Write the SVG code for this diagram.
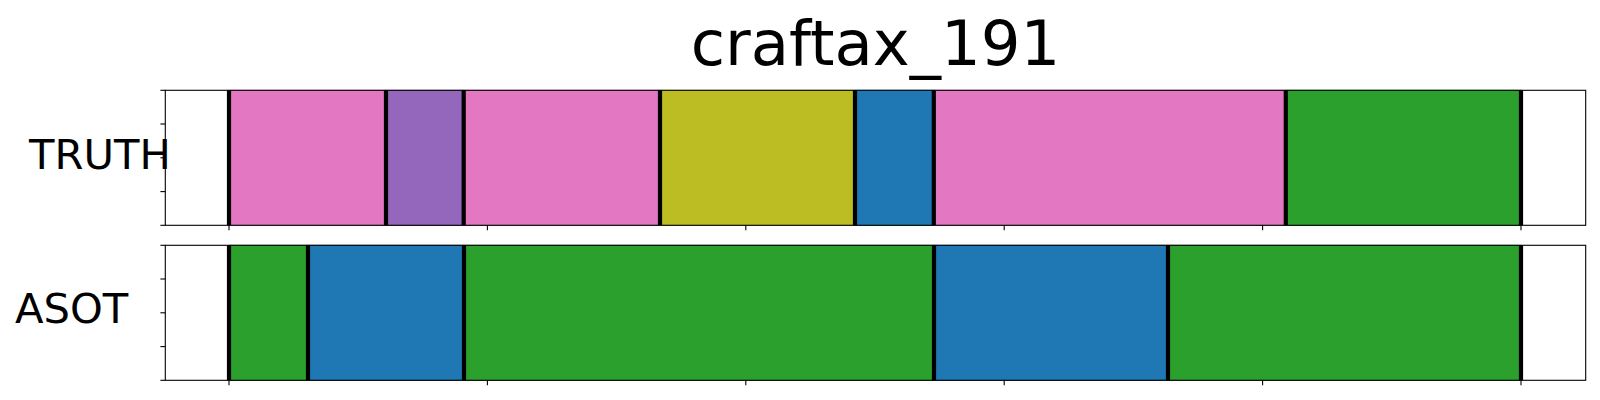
<svg xmlns="http://www.w3.org/2000/svg" width="1600" height="400" viewBox="0 0 1600 400">
<style>
  text { font-family: "DejaVu Sans", "Liberation Sans", sans-serif; fill: #000; }
  .title { font-size: 62.5px; }
  .lab { font-size: 41.7px; }
  .spine { fill: none; stroke: #000; stroke-width: 1.1; }
  .tick { stroke: #000; stroke-width: 1.1; }
  .bnd { stroke: #000; stroke-width: 4.2; }
  .pink { fill: #e377c2; stroke: #d36bb3; stroke-width: 1; }
  .purple { fill: #9467bd; stroke: #8a5db3; stroke-width: 1; }
  .olive { fill: #bcbd22; stroke: #b0b01c; stroke-width: 1; }
  .blue { fill: #1f77b4; stroke: #1b6ca6; stroke-width: 1; }
  .green { fill: #2ca02c; stroke: #279527; stroke-width: 1; }
</style>
<rect x="0" y="0" width="1600" height="400" fill="#fff"/>
<text class="title" x="875.5" y="64.5" text-anchor="middle">craftax_191</text>

<g id="truth">
  <rect class="pink" x="229" y="90.3" width="157" height="135"/>
  <rect class="purple" x="386" y="90.3" width="77.7" height="135"/>
  <rect class="pink" x="463.7" y="90.3" width="196.3" height="135"/>
  <rect class="olive" x="660" y="90.3" width="195" height="135"/>
  <rect class="blue" x="855" y="90.3" width="78.8" height="135"/>
  <rect class="pink" x="933.8" y="90.3" width="352" height="135"/>
  <rect class="green" x="1285.8" y="90.3" width="235.2" height="135"/>
  <g class="bnd">
    <line x1="229" y1="90.3" x2="229" y2="225.3"/>
    <line x1="386" y1="90.3" x2="386" y2="225.3"/>
    <line x1="463.7" y1="90.3" x2="463.7" y2="225.3"/>
    <line x1="660" y1="90.3" x2="660" y2="225.3"/>
    <line x1="855" y1="90.3" x2="855" y2="225.3"/>
    <line x1="933.8" y1="90.3" x2="933.8" y2="225.3"/>
    <line x1="1285.8" y1="90.3" x2="1285.8" y2="225.3"/>
    <line x1="1521" y1="90.3" x2="1521" y2="225.3"/>
  </g>
  <rect class="spine" x="165.3" y="90.3" width="1420.4" height="135"/>
  <g class="tick">
    <line x1="160.4" y1="90.3" x2="165.3" y2="90.3"/>
    <line x1="160.4" y1="124" x2="165.3" y2="124"/>
    <line x1="160.4" y1="157.8" x2="165.3" y2="157.8"/>
    <line x1="160.4" y1="191.6" x2="165.3" y2="191.6"/>
    <line x1="160.4" y1="225.3" x2="165.3" y2="225.3"/>
    <line x1="229" y1="225.3" x2="229" y2="230.2"/>
    <line x1="487.4" y1="225.3" x2="487.4" y2="230.2"/>
    <line x1="745.8" y1="225.3" x2="745.8" y2="230.2"/>
    <line x1="1004.2" y1="225.3" x2="1004.2" y2="230.2"/>
    <line x1="1262.6" y1="225.3" x2="1262.6" y2="230.2"/>
    <line x1="1521" y1="225.3" x2="1521" y2="230.2"/>
  </g>
  <text class="lab" x="29" y="169.3">TRUTH</text>
</g>

<g id="asot">
  <rect class="green" x="229" y="245.3" width="79" height="135"/>
  <rect class="blue" x="308" y="245.3" width="156" height="135"/>
  <rect class="green" x="464" y="245.3" width="470" height="135"/>
  <rect class="blue" x="934" y="245.3" width="234" height="135"/>
  <rect class="green" x="1168" y="245.3" width="353" height="135"/>
  <g class="bnd">
    <line x1="229" y1="245.3" x2="229" y2="380.3"/>
    <line x1="308" y1="245.3" x2="308" y2="380.3"/>
    <line x1="464" y1="245.3" x2="464" y2="380.3"/>
    <line x1="934" y1="245.3" x2="934" y2="380.3"/>
    <line x1="1168" y1="245.3" x2="1168" y2="380.3"/>
    <line x1="1521" y1="245.3" x2="1521" y2="380.3"/>
  </g>
  <rect class="spine" x="165.3" y="245.3" width="1420.4" height="135"/>
  <g class="tick">
    <line x1="160.4" y1="245.3" x2="165.3" y2="245.3"/>
    <line x1="160.4" y1="279" x2="165.3" y2="279"/>
    <line x1="160.4" y1="312.8" x2="165.3" y2="312.8"/>
    <line x1="160.4" y1="346.6" x2="165.3" y2="346.6"/>
    <line x1="160.4" y1="380.3" x2="165.3" y2="380.3"/>
    <line x1="229" y1="380.3" x2="229" y2="385.2"/>
    <line x1="487.4" y1="380.3" x2="487.4" y2="385.2"/>
    <line x1="745.8" y1="380.3" x2="745.8" y2="385.2"/>
    <line x1="1004.2" y1="380.3" x2="1004.2" y2="385.2"/>
    <line x1="1262.6" y1="380.3" x2="1262.6" y2="385.2"/>
    <line x1="1521" y1="380.3" x2="1521" y2="385.2"/>
  </g>
  <text class="lab" x="15" y="323.3">ASOT</text>
</g>
</svg>
